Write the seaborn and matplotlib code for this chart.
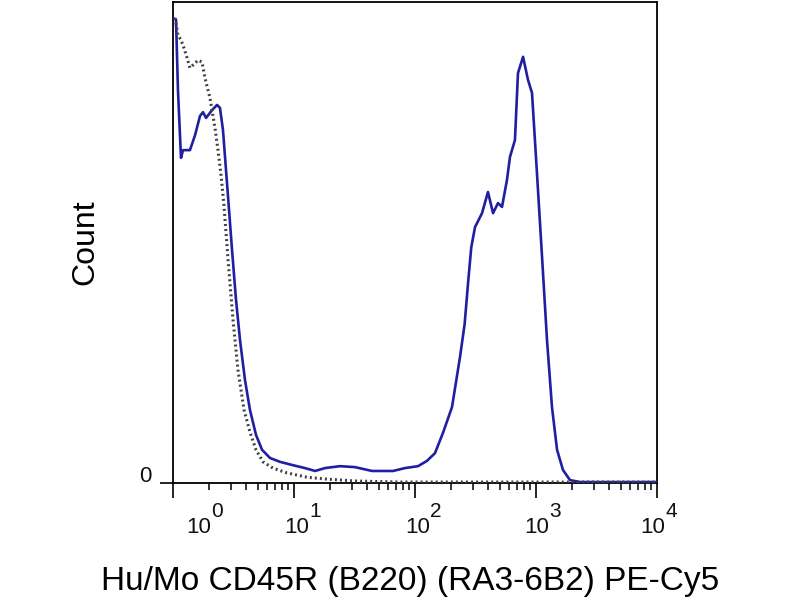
import numpy as np
import pandas as pd
import matplotlib
matplotlib.use("Agg")
import matplotlib.pyplot as plt
import matplotlib.transforms as mtransforms
from matplotlib.ticker import LogLocator, NullFormatter
import seaborn as sns

# ---- data ----
# stained sample (solid blue): position in decades (log10 intensity) and count (% of axis height)
stained_log = [0.000, 0.025, 0.041, 0.066, 0.083, 0.140, 0.182, 0.223, 0.248, 0.273,
               0.322, 0.364, 0.388, 0.413, 0.438, 0.463, 0.488, 0.521, 0.554, 0.595,
               0.636, 0.686, 0.736, 0.802, 0.884, 0.992, 1.091, 1.174, 1.256, 1.380,
               1.504, 1.645, 1.818, 1.917, 2.025, 2.099, 2.165, 2.231, 2.306, 2.372,
               2.410, 2.440, 2.465, 2.496, 2.554, 2.603, 2.645, 2.686, 2.719, 2.760, 2.785,
               2.826, 2.851, 2.893, 2.934, 2.967, 3.008, 3.050, 3.091, 3.132, 3.174,
               3.223, 3.281, 3.364, 4.000]
stained_count = [96.7, 96.3, 81.7, 67.6, 69.2, 69.2, 72.3, 76.3, 77.1, 75.9,
                 77.5, 78.6, 78.0, 73.4, 65.1, 56.8, 48.4, 38.0, 29.7, 21.4,
                 15.2, 10.0, 6.9, 5.2, 4.4, 3.7, 3.1, 2.5, 3.1, 3.5,
                 3.3, 2.5, 2.5, 3.1, 3.5, 4.6, 6.2, 10.4, 15.8, 26.2,
                 33.0, 42.0, 49.0, 53.2, 56.1, 60.5, 56.1, 58.2, 57.4, 63.0, 67.8,
                 71.3, 85.2, 88.6, 83.8, 81.1, 64.4, 47.0, 29.7, 15.8, 6.9,
                 2.7, 0.6, 0.2, 0.2]

# isotype control (dotted gray)
control_log = [0.017, 0.041, 0.066, 0.091, 0.116, 0.140, 0.174, 0.207, 0.240, 0.264,
               0.306, 0.347, 0.372, 0.397, 0.421, 0.455, 0.496, 0.537, 0.587, 0.636,
               0.686, 0.744, 0.826, 0.942, 1.107, 1.273, 1.521, 1.876, 4.000]
control_count = [96.7, 93.1, 92.1, 90.4, 88.4, 86.3, 87.1, 87.9, 87.5, 84.2,
                 80.0, 73.8, 69.2, 64.0, 57.8, 46.4, 33.9, 23.5, 15.2, 10.6,
                 6.9, 4.4, 3.1, 2.1, 1.2, 0.8, 0.4, 0.2, 0.2]

tick_decades = [0, 1, 2, 3, 4]
tick_base = "10"
tick_exponents = ["0", "1", "2", "3", "4"]
y_tick_values = [0]
y_tick_labels = ["0"]
x_label = "Hu/Mo CD45R (B220) (RA3-6B2) PE-Cy5"
y_label = "Count"

# ---- style / layout ----
sns.set_theme(style="white")
plt.rcParams["font.family"] = ["Liberation Sans", "DejaVu Sans"]

BLUE = "#1f1fa0"
GRAY = "#404040"
label_dx_px = [26, 3, 3, 1, -4]  # horizontal nudges of the decade labels (pixels)

fig = plt.figure(figsize=(8, 6), dpi=100)
ax = fig.add_axes([173 / 800, 1 - 483 / 600, 484 / 800, 481 / 600])

df_s = pd.DataFrame({"x": np.power(10.0, stained_log), "y": stained_count})
df_c = pd.DataFrame({"x": np.power(10.0, control_log), "y": control_count})

sns.lineplot(data=df_s, x="x", y="y", ax=ax, color=BLUE, linewidth=1.9,
             sort=False, estimator=None, zorder=3)
sns.lineplot(data=df_c, x="x", y="y", ax=ax, color=GRAY, linewidth=2.2,
             linestyle=(0, (0.65, 1.0)), sort=False, estimator=None, zorder=4)

ax.set_xscale("log")
ax.set_xlim(10 ** tick_decades[0], 10 ** tick_decades[-1])
ax.set_ylim(0, 100)

ax.set_xticks([10.0 ** d for d in tick_decades])
ax.set_xticklabels([""] * len(tick_decades))
ax.xaxis.set_minor_locator(LogLocator(base=10, subs=range(2, 10)))
ax.xaxis.set_minor_formatter(NullFormatter())
ax.set_yticks(y_tick_values)
ax.set_yticklabels([""] * len(y_tick_values))

ax.tick_params(axis="x", which="major", bottom=True, direction="out",
               length=10.8, width=1.2, color="black")
ax.tick_params(axis="x", which="minor", bottom=True, direction="out",
               length=5.0, width=1.1, color="black")
ax.tick_params(axis="y", which="major", left=True, direction="out",
               length=9.4, width=1.2, color="black")

for s in ax.spines.values():
    s.set_color("black")
    s.set_linewidth(1.3)

# decade labels "10" with large exponent
blend = mtransforms.blended_transform_factory(ax.transData, ax.transAxes)
for d, e, dx in zip(tick_decades, tick_exponents, label_dx_px):
    t_base = blend + mtransforms.ScaledTranslation(dx / 100, -50 / 100, fig.dpi_scale_trans)
    ax.text(10.0 ** d, 0, tick_base, transform=t_base, ha="center", va="baseline",
            fontsize=16, color="#111111", clip_on=False)
    t_exp = blend + mtransforms.ScaledTranslation((dx + 12) / 100, -34 / 100, fig.dpi_scale_trans)
    ax.text(10.0 ** d, 0, e, transform=t_exp, ha="left", va="baseline",
            fontsize=15, color="#111111", clip_on=False)

# y "0" label
blend_y = mtransforms.blended_transform_factory(ax.transAxes, ax.transData)
for v, lab in zip(y_tick_values, y_tick_labels):
    t_y = blend_y + mtransforms.ScaledTranslation(-21 / 100, 7 / 100, fig.dpi_scale_trans)
    ax.text(0, v, lab, transform=t_y, ha="right", va="center", fontsize=16,
            color="#111111", clip_on=False)

ax.set_xlabel(x_label, fontsize=24, color="black")
ax.xaxis.set_label_coords((410 - 173) / 484, (483 - 566) / 481)
ax.set_ylabel(y_label, fontsize=23, color="black")
ax.yaxis.set_label_coords((100 - 173) / 484, 0.5)

fig.savefig("out.png", dpi=100)
